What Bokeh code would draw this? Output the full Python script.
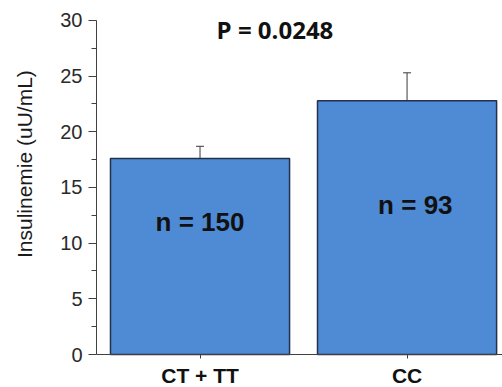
import math
from bokeh.plotting import figure
from bokeh.models import Range1d, FixedTicker, Whisker, TeeHead, ColumnDataSource, Label
from bokeh.core.properties import value
from bokeh.embed import file_html
from bokeh.resources import INLINE

# ---- data ----
categories = ["CT + TT", "CC"]
means = [17.6, 22.8]
errors = [1.1, 2.5]
n_labels = ["n = 150", "n = 93"]
p_label = "P = 0.0248"
y_label = "Insulinemie (uU/mL)"
y_ticks = [0, 5, 10, 15, 20, 25, 30]
y_minor = [2.5, 7.5, 12.5, 17.5, 22.5, 27.5]

xs = [i + 1 for i in range(len(categories))]
src = ColumnDataSource(dict(
    x=xs, top=means,
    upper=[m + e for m, e in zip(means, errors)],
    lower=means,
))

# frame spans the whole canvas; axes are pinned with fixed_location
p = figure(width=502, height=387, output_backend="svg", toolbar_location=None,
           x_range=Range1d(0.0363, 2.461), y_range=Range1d(-2.964, 31.796),
           min_border_left=0, min_border_top=0, min_border_bottom=0,
           min_border_right=0)
p.outline_line_color = None
p.xgrid.visible = False
p.ygrid.visible = False
p.background_fill_color = "white"

p.vbar(x="x", top="top", width=0.865, source=src,
       fill_color="#4f8ad4", line_color="#22304c", line_width=1.5)

w = Whisker(base="x", upper="upper", lower="lower", source=src,
            line_color="#3a3a3a", line_width=1,
            upper_head=TeeHead(size=8, line_color="#3a3a3a", line_width=1),
            lower_head=None)
p.add_layout(w)

# n labels inside bars
p.text(x=[xs[0], xs[1] + 0.04], y=[11.9, 13.4], text=n_labels,
       text_font=value("Liberation Sans"), text_font_style="bold",
       text_font_size="26px", text_align="center", text_baseline="middle",
       text_color="#111111")

# P value
p.text(x=[1.362], y=[29.2], text=[p_label],
       text_font=value("Open Sans"), text_font_style="bold",
       text_font_size="24px", text_align="center", text_baseline="middle",
       text_color="#111111")

# y axis
ya = p.yaxis[0]
ya.fixed_location = 0.5
ya.bounds = (0, 30)
ya.ticker = FixedTicker(ticks=y_ticks, minor_ticks=y_minor)
ya.major_label_text_font = "Liberation Sans"
ya.major_label_text_font_size = "20px"
ya.major_label_text_color = "#2a2a2a"
ya.major_label_standoff = 6
ya.major_tick_out = 8
ya.major_tick_in = 0
ya.minor_tick_out = 5
ya.minor_tick_in = 0
ya.axis_line_color = "#404040"
ya.major_tick_line_color = "#404040"
ya.minor_tick_line_color = "#404040"

# y axis title
p.add_layout(Label(x=0.150, y=17.1, text=y_label, angle=math.pi / 2,
                   text_font="Liberation Sans", text_font_size="21px",
                   text_color="#1a1a1a", text_align="center",
                   text_baseline="middle"))

# x axis
xa = p.xaxis[0]
xa.fixed_location = 0
xa.bounds = (0.5, 2.461)
xa.ticker = FixedTicker(ticks=xs)
xa.major_label_overrides = {x: c for x, c in zip(xs, categories)}
xa.major_label_text_font = "Liberation Sans"
xa.major_label_text_font_style = "bold"
xa.major_label_text_font_size = "21px"
xa.major_label_text_color = "#111111"
xa.major_label_standoff = 5
xa.major_tick_out = 4
xa.major_tick_in = 0
xa.minor_tick_line_color = None
xa.axis_line_color = "#404040"
xa.major_tick_line_color = "#404040"

open("out.html", "w").write(file_html(p, INLINE))
